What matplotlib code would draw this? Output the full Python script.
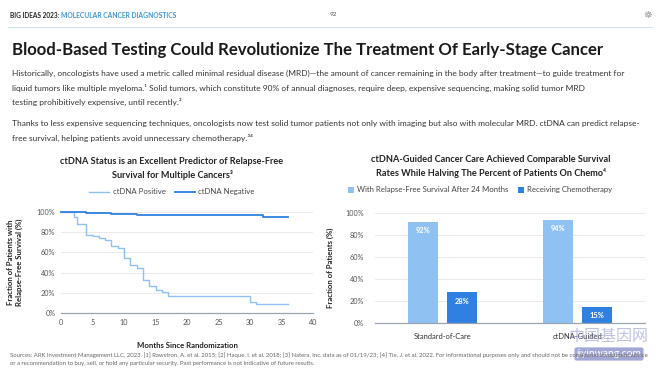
import numpy as np
import matplotlib
matplotlib.use("Agg")
import matplotlib.pyplot as plt

plt.rcParams['font.family'] = ['Lato', 'DejaVu Sans']

# Kaplan-Meier curves (months, % relapse-free)
pos_months = [0, 2, 2.5, 4, 5, 6, 7, 8, 9, 10, 11, 12, 13, 14, 15, 16, 17, 30, 31, 36]
pos_surv = [100, 95, 88, 77, 76, 74, 72, 66, 64, 54, 48, 45, 33, 27, 23, 21, 16.5, 11, 9, 9]
neg_months = [0, 4, 8, 12, 32, 36]
neg_surv = [100, 99, 98, 97, 95, 95]

# bar chart
groups = ['Standard-of-Care', 'ctDNA-Guided']
relapse_free = [92, 94]
chemo = [28, 15]

LIGHT = '#8fc1f2'
DARK = '#2f80e0'
TXT = '#333333'

W, H = 660, 377
fig = plt.figure(figsize=(6.6, 3.77), dpi=100)


def ftext(x, y, s, **kw):
    return fig.text(x / W, 1 - y / H, s, **kw)


def add_axes(x0, y0, x1, y1):
    return fig.add_axes([x0 / W, 1 - y1 / H, (x1 - x0) / W, (y1 - y0) / H])


# header
ftext(10, 15, 'BIG IDEAS 2023:', fontsize=4.7, weight='bold', color='#222222', va='center')
ftext(61, 15, 'MOLECULAR CANCER DIAGNOSTICS', fontsize=4.9, weight='bold', color='#3d96d8', va='center')
ftext(333, 15, '92', fontsize=4.6, color='#555555', va='center', ha='center')
ftext(648, 15, '\u2638', fontsize=7, color='#999999', va='center', ha='center', family=['DejaVu Sans'])
fig.add_artist(plt.Line2D([8 / W, 652 / W], [1 - 27 / H, 1 - 27 / H], color='#cfe3f2', lw=0.8))

# title
ftext(12, 50, 'Blood-Based Testing Could Revolutionize The Treatment Of Early-Stage Cancer',
      fontsize=12.1, weight='bold', color='#1a1a1a', va='center')

para = [
    (73, 'Historically, oncologists have used a metric called minimal residual disease (MRD)\u2014the amount of cancer remaining in the body after treatment\u2014to guide treatment for'),
    (88, 'liquid tumors like multiple myeloma.\u00b9 Solid tumors, which constitute 90% of annual diagnoses, require deep, expensive sequencing, making solid tumor MRD'),
    (102, 'testing prohibitively expensive, until recently.\u00b2'),
    (123, 'Thanks to less expensive sequencing techniques, oncologists now test solid tumor patients not only with imaging but also with molecular MRD. ctDNA can predict relapse-'),
    (138, 'free survival, helping patients avoid unnecessary chemotherapy.\u00b3\u2074'),
]
for y, s in para:
    ftext(12, y, s, fontsize=6.0, color=TXT, va='center')

# ---------- left chart ----------
ftext(172, 162, 'ctDNA Status is an Excellent Predictor of Relapse-Free', fontsize=6.6,
      weight='bold', color='#222222', ha='center', va='center')
ftext(172, 175, 'Survival for Multiple Cancers\u00b3', fontsize=6.6,
      weight='bold', color='#222222', ha='center', va='center')

ax1 = add_axes(61, 212, 313, 313)
ax1.step(pos_months, pos_surv, where='post', color=LIGHT, lw=1.0, label='ctDNA Positive', clip_on=False)
ax1.step(neg_months, neg_surv, where='post', color=DARK, lw=1.3, label='ctDNA Negative', clip_on=False)
ax1.set_xlim(0, 40)
ax1.set_ylim(0, 100)
ax1.set_xticks(range(0, 41, 5))
ax1.set_yticks(range(0, 101, 20))
ax1.set_yticklabels([f'{v}%' for v in range(0, 101, 20)])
ax1.grid(axis='y', color='#e6e6e6', lw=0.6)
ax1.set_axisbelow(True)
for s in ['top', 'right', 'left']:
    ax1.spines[s].set_visible(False)
ax1.spines['bottom'].set_color('#9aa5b1')
ax1.spines['bottom'].set_linewidth(0.9)
ax1.tick_params(length=0, labelsize=5.2, labelcolor='#555555', pad=4)
ax1.set_xlabel('Months Since Randomization', fontsize=5.6, weight='bold', color='#222222', labelpad=12)
ax1.set_ylabel('Fraction of Patients with\nRelapse-Free Survival (%)', fontsize=5.6,
               weight='bold', color='#222222', labelpad=10)
ax1.legend(loc='center', bbox_to_anchor=(0.44, 1.2), ncol=2, frameon=False, fontsize=5.6,
           handlelength=2.6, columnspacing=1.2, handletextpad=0.4, labelcolor='#444444')

# ---------- right chart ----------
ftext(491, 160, 'ctDNA-Guided Cancer Care Achieved Comparable Survival', fontsize=6.6,
      weight='bold', color='#222222', ha='center', va='center')
ftext(491, 173, 'Rates While Halving The Percent of Patients On Chemo\u2074', fontsize=6.6,
      weight='bold', color='#222222', ha='center', va='center')

ax2 = add_axes(375, 213, 645, 323)
x = np.arange(len(groups))
bw = 0.22
b1 = ax2.bar(x - 0.145, relapse_free, bw, color=LIGHT, label='With Relapse-Free Survival After 24 Months')
b2 = ax2.bar(x + 0.145, chemo, bw, color=DARK, label='Receiving Chemotherapy')
for bars in (b1, b2):
    for r in bars:
        ax2.text(r.get_x() + r.get_width() / 2, r.get_height() - 8, f'{r.get_height():.0f}%',
                 ha='center', va='center', color='white', fontsize=5.4, weight='bold')
ax2.set_xlim(-0.5, 1.5)
ax2.set_ylim(0, 100)
ax2.set_xticks(x)
ax2.set_xticklabels(groups)
ax2.set_yticks(range(0, 101, 20))
ax2.set_yticklabels([f'{v}%' for v in range(0, 101, 20)])
ax2.grid(axis='y', color='#e6e6e6', lw=0.6)
ax2.set_axisbelow(True)
for s in ['top', 'right', 'left']:
    ax2.spines[s].set_visible(False)
ax2.spines['bottom'].set_color('#9aa5b1')
ax2.spines['bottom'].set_linewidth(0.9)
ax2.tick_params(length=0, labelsize=5.2, labelcolor='#555555', pad=8)
ax2.tick_params(axis='x', labelsize=5.4, labelcolor='#333333', pad=7)
ax2.set_ylabel('Fraction of Patients (%)', fontsize=5.6, weight='bold', color='#222222', labelpad=8)
ax2.legend(loc='center', bbox_to_anchor=(0.39, 1.21), ncol=2, frameon=False, fontsize=5.6,
           handlelength=0.8, handleheight=0.8, columnspacing=1.2, handletextpad=0.4,
           labelcolor='#444444')

# watermark
ftext(608, 336, '中国基因网', fontsize=11.5, color='#8a8fc6', alpha=0.55, ha='center', va='center',
      family=['Noto Sans CJK SC'])
ftext(609, 354, 'jiyinwang.com', fontsize=7.5, color='white', ha='center', va='center',
      bbox=dict(boxstyle='round,pad=0.2', fc='#7b82c4', ec='none', alpha=0.7))

# footer
ftext(10, 355, 'Sources: ARK Investment Management LLC, 2023. [1] Rawstron, A. et al. 2015; [2] Haque, I. et al. 2018; [3] Natera, Inc. data as of 01/19/23; [4] Tie, J. et al. 2022. '
      'For informational purposes only and should not be considered investment advice',
      fontsize=4.3, color='#666666', va='center')
ftext(10, 364, 'or a recommendation to buy, sell, or hold any particular security. Past performance is not indicative of future results.',
      fontsize=4.3, color='#666666', va='center')

fig.savefig('out.png', dpi=100)
